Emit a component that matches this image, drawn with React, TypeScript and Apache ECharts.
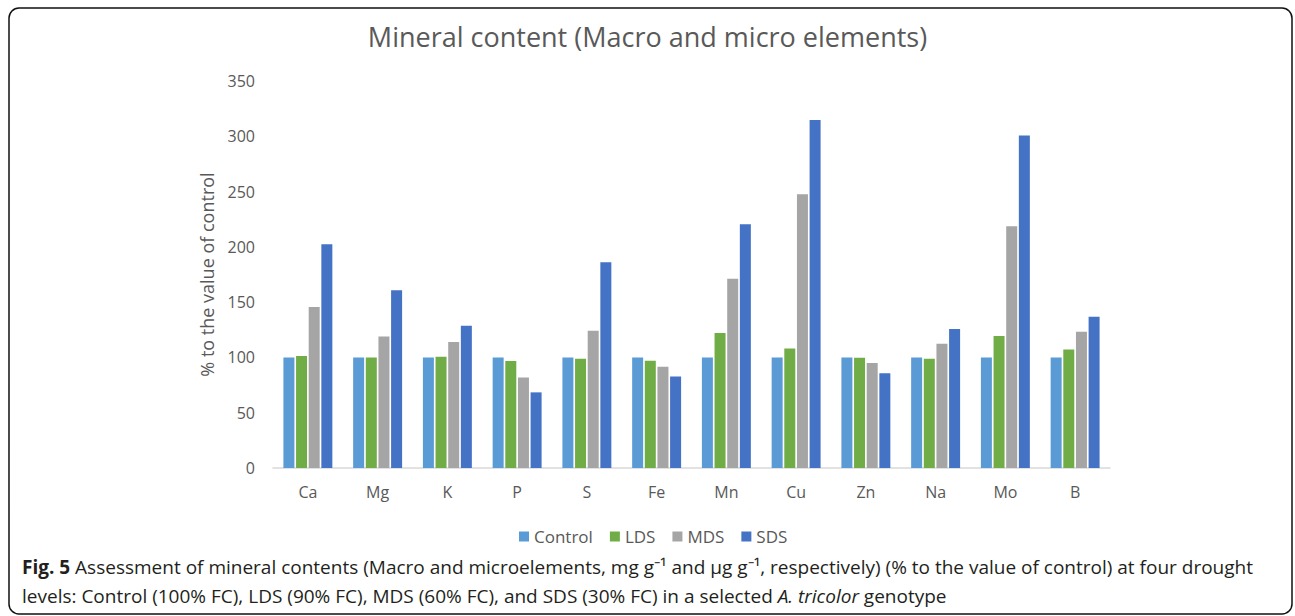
import React, { useEffect, useRef } from "react";
import * as echarts from "echarts";

const categories = ["Ca", "Mg", "K", "P", "S", "Fe", "Mn", "Cu", "Zn", "Na", "Mo", "B"];
const controlValues = [100, 100, 100, 100, 100, 100, 100, 100, 100, 100, 100, 100];
const ldsValues = [101.2, 100, 100.6, 96.7, 98.8, 97.0, 122.0, 108.1, 99.8, 98.8, 119.3, 107.2];
const mdsValues = [145.5, 119, 113.9, 81.9, 124.1, 91.6, 171.1, 247.6, 94.9, 112.3, 218.7, 123.2];
const sdsValues = [202.4, 160.8, 128.6, 68.4, 186.1, 82.8, 220.5, 314.8, 85.8, 125.6, 300.6, 136.7];
const seriesNames = ["Control", "LDS", "MDS", "SDS"];
const seriesColors = ["#5B9BD5", "#70AD47", "#A5A5A5", "#4472C4"];
const yTicks = { min: 0, max: 350, interval: 50 };

const FONT = "'Open Sans', sans-serif";

export default function App() {
  const ref = useRef<HTMLDivElement>(null);
  useEffect(() => {
    if (!ref.current) return;
    const chart = echarts.init(ref.current, null, { renderer: "svg" });
    const data = [controlValues, ldsValues, mdsValues, sdsValues];
    chart.setOption({
      animation: false,
      backgroundColor: "#ffffff",
      title: {
        text: "Mineral content (Macro and micro elements)",
        left: "center",
        top: 18,
        textStyle: { fontFamily: FONT, fontSize: 27, fontWeight: "normal", color: "#595959" },
      },
      legend: {
        data: seriesNames,
        top: 523,
        left: 514,
        itemWidth: 10,
        itemHeight: 10,
        itemGap: 17,
        icon: "rect",
        textStyle: { fontFamily: FONT, fontSize: 17, color: "#595959" },
      },
      grid: { left: 273, right: 185, top: 81, bottom: 148, containLabel: false },
      xAxis: {
        type: "category",
        data: categories,
        axisLine: { lineStyle: { color: "#D9D9D9", width: 1.5 } },
        axisTick: { show: false },
        axisLabel: { fontFamily: FONT, fontSize: 16, color: "#595959", margin: 16 },
      },
      yAxis: {
        type: "value",
        min: yTicks.min,
        max: yTicks.max,
        interval: yTicks.interval,
        name: "% to the value of control",
        nameLocation: "middle",
        nameGap: 57,
        nameTextStyle: { fontFamily: FONT, fontSize: 18, color: "#595959" },
        axisLine: { show: false },
        axisTick: { show: false },
        splitLine: { show: false },
        axisLabel: { fontFamily: FONT, fontSize: 16, color: "#595959", margin: 18 },
      },
      series: seriesNames.map((name, i) => ({
        name,
        type: "bar",
        data: data[i],
        barWidth: 11,
        barGap: "15%",
        itemStyle: { color: seriesColors[i] },
      })),
      graphic: [
        {
          type: "rect",
          shape: { x: 9, y: 8, width: 1283, height: 606, r: 10 },
          style: { fill: "none", stroke: "#111111", lineWidth: 1.5 },
          silent: true,
        },
        {
          type: "text",
          left: 22,
          top: 557,
          style: {
            text:
              "{b|Fig. 5} Assessment of mineral contents (Macro and microelements, mg g⁻¹ and μg g⁻¹, respectively) (% to the value of control) at four drought",
            fontFamily: FONT,
            fontSize: 19,
            fill: "#231F20",
            rich: {
              b: { fontFamily: FONT, fontSize: 19, fontWeight: "bold", fill: "#231F20" },
            },
          },
        },
        {
          type: "text",
          left: 22,
          top: 586,
          style: {
            text:
              "levels: Control (100% FC), LDS (90% FC), MDS (60% FC), and SDS (30% FC) in a selected {i|A. tricolor} genotype",
            fontFamily: FONT,
            fontSize: 19,
            fill: "#231F20",
            rich: {
              i: { fontFamily: FONT, fontSize: 19, fontStyle: "italic", fill: "#231F20" },
            },
          },
        },
      ],
    });
    return () => chart.dispose();
  }, []);
  return (
    <div
      ref={ref}
      style={{ position: "fixed", left: 0, top: 0, width: 1295, height: 616 }}
    />
  );
}
